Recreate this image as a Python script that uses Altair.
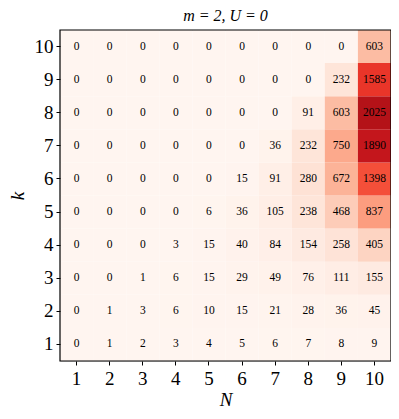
import altair as alt
import pandas as pd

N_vals = [1, 2, 3, 4, 5, 6, 7, 8, 9, 10]
k_vals = [1, 2, 3, 4, 5, 6, 7, 8, 9, 10]
# rows: k = 1..10, columns: N = 1..10
counts = [
    [0, 1, 2, 3, 4, 5, 6, 7, 8, 9],
    [0, 1, 3, 6, 10, 15, 21, 28, 36, 45],
    [0, 0, 1, 6, 15, 29, 49, 76, 111, 155],
    [0, 0, 0, 3, 15, 40, 84, 154, 258, 405],
    [0, 0, 0, 0, 6, 36, 105, 238, 468, 837],
    [0, 0, 0, 0, 0, 15, 91, 280, 672, 1398],
    [0, 0, 0, 0, 0, 0, 36, 232, 750, 1890],
    [0, 0, 0, 0, 0, 0, 0, 91, 603, 2025],
    [0, 0, 0, 0, 0, 0, 0, 0, 232, 1585],
    [0, 0, 0, 0, 0, 0, 0, 0, 0, 603],
]
title_text = "m = 2, U = 0"

rows = []
for i, k in enumerate(k_vals):
    for j, n in enumerate(N_vals):
        rows.append({"N": n, "k": k, "value": counts[i][j]})
df = pd.DataFrame(rows)

reds = ["#fff5f0", "#fee0d2", "#fcbba1", "#fc9272", "#fb6a4a",
        "#ef3b2c", "#cb181d", "#a50f15", "#67000d"]
vmax = 2450
dom = [vmax * i / 8 for i in range(9)]

font = "Liberation Serif"

base = alt.Chart(df).encode(
    x=alt.X("N:O", sort=N_vals, scale=alt.Scale(paddingInner=0, paddingOuter=0),
            axis=alt.Axis(title="N", labelAngle=0, labelFontSize=19, titleFontSize=19,
                          titleFontStyle="italic", titleFontWeight="normal",
                          labelFont=font, titleFont=font, labelColor="black",
                          titleColor="black", tickColor="black", tickSize=4,
                          domain=False, labelPadding=4, titlePadding=2)),
    y=alt.Y("k:O", sort=list(reversed(k_vals)),
            scale=alt.Scale(paddingInner=0, paddingOuter=0),
            axis=alt.Axis(title="k", labelFontSize=19, titleFontSize=19,
                          titleFontStyle="italic", titleFontWeight="normal",
                          labelFont=font, titleFont=font, labelColor="black",
                          titleColor="black", tickColor="black", tickSize=4,
                          domain=False, labelPadding=3, titlePadding=7,
                          titleAngle=-90)),
)

rects = base.mark_rect().encode(
    color=alt.Color("value:Q", legend=None,
                    scale=alt.Scale(domain=dom, range=reds, interpolate="rgb"))
)
texts = base.mark_text(font=font, fontSize=11.5, color="black").encode(
    text=alt.Text("value:Q")
)
frame = alt.Chart(pd.DataFrame({"f": [0]})).mark_rect(
    fill=None, fillOpacity=0, stroke="black", strokeWidth=1.2
).encode(x=alt.value(0), x2=alt.value("width"), y=alt.value(0), y2=alt.value("height"))

chart = (rects + texts + frame).properties(
    width=331, height=331,
    title=alt.Title(title_text, font=font, fontSize=16, fontStyle="italic",
                    fontWeight="normal", color="black", offset=5),
    padding={"left": 52, "top": 22, "right": 0, "bottom": 50},
    autosize=alt.AutoSizeParams(type="none"),
).configure_view(stroke=None).configure(background="white")

chart.save("out.html", embed_options={"renderer": "svg", "actions": False})
